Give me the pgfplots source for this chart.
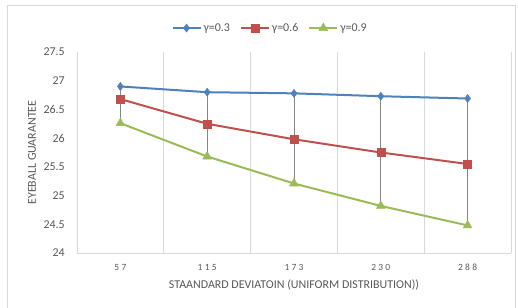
\documentclass[border=0pt]{standalone}
\usepackage{fontspec}
\setmainfont{Carlito}
\newfontfamily\spaced[LetterSpace=24]{Carlito}
\usepackage{pgfplots}
\pgfplotsset{compat=1.18}
\definecolor{txt}{HTML}{595959}
\definecolor{gridc}{HTML}{D9D9D9}
\definecolor{cblue}{HTML}{4F81BD}
\definecolor{cred}{HTML}{C0504D}
\definecolor{cgreen}{HTML}{9BBB59}
\definecolor{hilo}{HTML}{868686}
\begin{document}
\begin{tikzpicture}
\useasboundingbox (0,0) rectangle (518bp,308bp);
\fill[white] (0,0) rectangle (518bp,308bp);
\draw[gridc, line width=0.8bp] (7bp,-5bp) rectangle (515bp,303bp);
\begin{axis}[
  at={(77bp,55bp)}, anchor=south west, scale only axis,
  width=434bp, height=201bp,
  xmin=-0.5, xmax=4.5, ymin=24, ymax=27.5,
  xtick={0,1,2,3,4}, xticklabels={57,115,173,230,288},
  ytick={24,24.5,25,25.5,26,26.5,27,27.5},
  yticklabels={24,24.5,25,25.5,26,26.5,27,27.5},
  minor xtick={-0.5,0.5,1.5,2.5,3.5,4.5},
  xminorgrids=true,
  minor grid style={gridc, line width=0.8bp},
  major tick length=0pt, minor tick length=0pt,
  axis x line*=bottom, axis y line*=left,
  x axis line style={gridc, line width=0.8bp, -},
  y axis line style={draw=none},
  /pgf/number format/assume math mode=true,
  yticklabel style={font=\fontsize{12}{14}\selectfont, text=txt, inner sep=0pt, anchor=east, xshift=-12bp},
  xticklabel style={font=\fontsize{9.5}{11}\selectfont\spaced, text=txt, inner sep=0pt, anchor=north, yshift=-11bp},
  xlabel={STAANDARD DEVIATOIN (UNIFORM DISTRIBUTION))},
  ylabel={EYEBALL GUARANTEE},
  xlabel style={font=\fontsize{12}{14}\selectfont, text=txt, at={(axis description cs:0.5,-0.159)}, anchor=center},
  ylabel style={font=\fontsize{12}{14}\selectfont, text=txt, at={(axis description cs:-0.1037,0.5)}, anchor=center, rotate=0},
  legend style={at={(0.445,1.119)}, anchor=center, draw=none, fill=none, font=\fontsize{12}{14}\selectfont, text=txt, legend columns=3, inner sep=0pt, /tikz/every even column/.append style={column sep=8bp}, /tikz/every odd column/.append style={column sep=0bp}},
  legend image code/.code={\draw[mark repeat=2,mark phase=2] plot coordinates {(0bp,0bp) (14bp,0bp) (28bp,0bp)};},
  clip=false,
]
% high-low lines
\addplot[hilo, line width=1bp, forget plot] coordinates {(0,26.90) (0,26.26)};
\addplot[hilo, line width=1bp, forget plot] coordinates {(1,26.80) (1,25.68)};
\addplot[hilo, line width=1bp, forget plot] coordinates {(2,26.78) (2,25.21)};
\addplot[hilo, line width=1bp, forget plot] coordinates {(3,26.73) (3,24.82)};
\addplot[hilo, line width=1bp, forget plot] coordinates {(4,26.69) (4,24.48)};
\addplot[cblue, line width=2bp, mark=diamond*, mark size=4bp, mark options={solid, fill=cblue, line width=0.5bp}]
  coordinates {(0,26.90) (1,26.80) (2,26.78) (3,26.73) (4,26.69)};
\addlegendentry{γ=0.3}
\addplot[cred, line width=2bp, mark=square*, mark size=4bp, mark options={solid, fill=cred, line width=0.5bp}]
  coordinates {(0,26.68) (1,26.25) (2,25.98) (3,25.75) (4,25.55)};
\addlegendentry{γ=0.6}
\addplot[cgreen, line width=2bp, mark=triangle*, mark size=5bp, mark options={solid, fill=cgreen, line width=0.5bp}]
  coordinates {(0,26.26) (1,25.68) (2,25.21) (3,24.82) (4,24.48)};
\addlegendentry{γ=0.9}
\end{axis}
\end{tikzpicture}
\end{document}
